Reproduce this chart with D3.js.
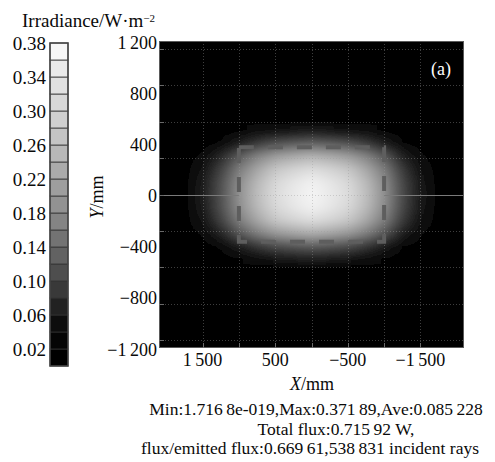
<!DOCTYPE html>
<html>
<head>
<meta charset="utf-8">
<script src="https://cdn.jsdelivr.net/npm/d3@7"></script>
<style>
  body { margin: 0; background: #fff; }
  text { font-family: "Liberation Serif", "Times New Roman", serif; fill: #0a0a0a; }
</style>
</head>
<body>
<div class="root"></div>
<script>
// detector cell centres (mm) and irradiance (W/m^2)
var xCells = [1750, 1500, 1250, 1000, 750, 500, 250, 0, -250, -500, -750, -1000, -1250, -1500, -1750];
var yCells = [500, 400, 300, 200, 100, 0, -100, -200, -300, -400, -500];
var irradiance = [
  [0.004, 0.010, 0.018, 0.030, 0.042, 0.051, 0.056, 0.060, 0.056, 0.051, 0.042, 0.030, 0.017, 0.010, 0.003],
  [0.008, 0.023, 0.041, 0.068, 0.094, 0.115, 0.126, 0.134, 0.126, 0.115, 0.094, 0.067, 0.038, 0.022, 0.007],
  [0.015, 0.043, 0.076, 0.125, 0.172, 0.211, 0.231, 0.246, 0.231, 0.211, 0.172, 0.122, 0.069, 0.040, 0.013],
  [0.019, 0.056, 0.099, 0.163, 0.224, 0.275, 0.301, 0.320, 0.301, 0.275, 0.224, 0.159, 0.090, 0.052, 0.017],
  [0.022, 0.063, 0.112, 0.184, 0.252, 0.310, 0.340, 0.361, 0.340, 0.310, 0.252, 0.179, 0.102, 0.058, 0.019],
  [0.023, 0.065, 0.115, 0.190, 0.260, 0.320, 0.350, 0.372, 0.350, 0.320, 0.260, 0.185, 0.105, 0.060, 0.020],
  [0.022, 0.063, 0.112, 0.184, 0.252, 0.310, 0.340, 0.361, 0.340, 0.310, 0.252, 0.179, 0.102, 0.058, 0.019],
  [0.019, 0.056, 0.099, 0.163, 0.224, 0.275, 0.301, 0.320, 0.301, 0.275, 0.224, 0.159, 0.090, 0.052, 0.017],
  [0.014, 0.041, 0.072, 0.120, 0.164, 0.202, 0.221, 0.234, 0.221, 0.202, 0.164, 0.117, 0.066, 0.038, 0.012],
  [0.008, 0.022, 0.039, 0.065, 0.088, 0.109, 0.119, 0.126, 0.119, 0.109, 0.088, 0.063, 0.036, 0.020, 0.007],
  [0.004, 0.011, 0.020, 0.033, 0.046, 0.056, 0.061, 0.065, 0.061, 0.056, 0.046, 0.032, 0.018, 0.011, 0.003]
];
var cellW = 250, cellH = 100;

var legendBins = [0, 0.02, 0.04, 0.06, 0.08, 0.10, 0.12, 0.14, 0.16, 0.18, 0.20, 0.22, 0.24, 0.26, 0.28, 0.30, 0.32, 0.34, 0.36];
var legendGreys = ["#000000", "#050505", "#0d0d0d", "#222222", "#393939", "#4e4e4e", "#626262", "#737373", "#848484", "#929292",
                   "#9e9e9e", "#ababab", "#b8b8b8", "#c4c4c4", "#cfcfcf", "#d8d8d8", "#e1e1e1", "#eaeaea", "#f6f6f6"];
var legendTicks = [0.02, 0.06, 0.10, 0.14, 0.18, 0.22, 0.26, 0.30, 0.34, 0.38];

var xTicks = [1500, 500, -500, -1500];
var yTicks = [1200, 800, 400, 0, -400, -800, -1200];
var xGrid = [1500, 1000, 500, 0, -500, -1000, -1500];
var yGrid = [1140, 855, 570, 285, 0, -285, -570, -855, -1140];
var targetX = [1000, -1000], targetY = [370, -370];

var statsLines = [
  "Min:1.716\u20098e-019,Max:0.371\u200989,Ave:0.085\u2009228",
  "Total flux:0.715\u200992 W,",
  "flux/emitted flux:0.669\u200961,538\u2009831 incident rays"
];

var width = 495, height = 462,
    box = { left: 159, right: 464, top: 41, bottom: 348 };

var svg = d3.select(".root").append("svg")
    .attr("width", width)
    .attr("height", height);

var x = d3.scaleLinear().domain([2100, -2100]).range([box.left, box.right]);
var y = d3.scaleLinear().domain([-1200, 1200]).range([box.bottom, box.top]);
var ly = d3.scaleLinear().domain([0, 0.38]).range([366, 43]);

var grey = d3.scaleLinear()
    .domain(legendBins.map(d => d + 0.01))
    .range(legendGreys)
    .clamp(true);

var fmt = d3.formatLocale({ decimal: ".", thousands: "\u2009", grouping: [3], currency: ["", ""], minus: "\u2212" }).format(",");

var defs = svg.append("defs");
defs.append("clipPath").attr("id", "plotclip")
  .append("rect")
    .attr("x", box.left).attr("y", box.top)
    .attr("width", box.right - box.left).attr("height", box.bottom - box.top);
defs.append("filter").attr("id", "soft")
    .attr("x", "-20%").attr("y", "-20%").attr("width", "140%").attr("height", "140%")
  .append("feGaussianBlur").attr("stdDeviation", "4 3");

// plot background
svg.append("rect")
    .attr("x", box.left).attr("y", box.top)
    .attr("width", box.right - box.left).attr("height", box.bottom - box.top)
    .attr("fill", "#000");

// irradiance map: one canvas pixel per detector cell, smoothed when scaled up
var cv = document.createElement("canvas");
cv.width = xCells.length; cv.height = yCells.length;
var ctx = cv.getContext("2d");
irradiance.forEach((row, i) => row.forEach((v, j) => {
  ctx.fillStyle = grey(v);
  ctx.fillRect(j, i, 1, 1);
}));

svg.append("g").attr("clip-path", "url(#plotclip)")
  .append("image")
    .attr("href", cv.toDataURL())
    .attr("x", x(xCells[0] + cellW / 2))
    .attr("y", y(yCells[0] + cellH / 2))
    .attr("width", x(xCells[xCells.length - 1] - cellW / 2) - x(xCells[0] + cellW / 2))
    .attr("height", y(yCells[yCells.length - 1] - cellH / 2) - y(yCells[0] + cellH / 2))
    .attr("preserveAspectRatio", "none")
    .style("image-rendering", "auto")
    .attr("filter", "url(#soft)");

// dotted grid
var grid = svg.append("g").attr("stroke", "#9a9a9a").attr("stroke-opacity", 0.4)
    .attr("stroke-dasharray", "1,2").attr("stroke-width", 1);
grid.selectAll(".gx").data(xGrid).enter().append("line")
    .attr("x1", d => Math.round(x(d)) + 0.5).attr("x2", d => Math.round(x(d)) + 0.5)
    .attr("y1", box.top).attr("y2", box.bottom);
grid.selectAll(".gy").data(yGrid).enter().append("line")
    .attr("y1", d => Math.round(y(d)) + 0.5).attr("y2", d => Math.round(y(d)) + 0.5)
    .attr("x1", box.left).attr("x2", box.right);

// solid centre line outside the target
var cy0 = Math.round(y(0)) + 0.5;
svg.append("g").attr("stroke", "#7a7a7a").attr("stroke-width", 1.2)
  .selectAll("line")
  .data([[2100, targetX[0]], [targetX[1], -2100]])
  .enter().append("line")
    .attr("x1", d => x(d[0])).attr("x2", d => x(d[1]))
    .attr("y1", cy0).attr("y2", cy0);

// dashed target outline
svg.append("rect")
    .attr("x", x(targetX[0])).attr("y", y(targetY[0]))
    .attr("width", x(targetX[1]) - x(targetX[0]))
    .attr("height", y(targetY[1]) - y(targetY[0]))
    .attr("fill", "none")
    .attr("stroke", "#5e5e5e")
    .attr("stroke-width", 4)
    .attr("stroke-dasharray", "15,14");

// frame and inward ticks
svg.append("rect")
    .attr("x", box.left + 0.5).attr("y", box.top + 0.5)
    .attr("width", box.right - box.left - 1).attr("height", box.bottom - box.top - 1)
    .attr("fill", "none").attr("stroke", "#5a5a5a").attr("stroke-width", 1);
var ticks = svg.append("g").attr("stroke", "#6a6a6a").attr("stroke-width", 1);
ticks.selectAll(".tx").data(xGrid).enter().append("line")
    .attr("x1", d => Math.round(x(d)) + 0.5).attr("x2", d => Math.round(x(d)) + 0.5)
    .attr("y1", box.bottom).attr("y2", box.bottom - 5);
ticks.selectAll(".ty").data(yGrid).enter().append("line")
    .attr("y1", d => Math.round(y(d)) + 0.5).attr("y2", d => Math.round(y(d)) + 0.5)
    .attr("x1", box.left).attr("x2", box.left + 5);

// tick labels
svg.append("g").selectAll("text").data(yTicks).enter().append("text")
    .attr("x", 157).attr("y", d => y(d)).attr("dy", "0.42em")
    .attr("text-anchor", "end").style("font-size", "18px")
    .text(d => fmt(d));
svg.append("g").selectAll("text").data(xTicks).enter().append("text")
    .attr("x", d => x(d)).attr("y", 366)
    .attr("text-anchor", "middle").style("font-size", "18px")
    .text(d => fmt(d));

// axis titles
var xt = svg.append("text").attr("x", 312).attr("y", 390)
    .attr("text-anchor", "middle").style("font-size", "18px");
xt.append("tspan").style("font-style", "italic").text("X");
xt.append("tspan").text("/mm");
var yt = svg.append("text").attr("transform", "translate(103,197) rotate(-90)")
    .attr("text-anchor", "middle").style("font-size", "18px");
yt.append("tspan").style("font-style", "italic").text("Y");
yt.append("tspan").text("/mm");

svg.append("text").attr("x", 441).attr("y", 75).attr("text-anchor", "middle")
    .style("font-size", "18px").style("fill", "#fff").text("(a)");

// colour bar
var legend = svg.append("g");
legend.selectAll("rect").data(legendBins).enter().append("rect")
    .attr("x", 50).attr("width", 18)
    .attr("y", d => ly(d + 0.02)).attr("height", d => ly(d) - ly(d + 0.02))
    .attr("fill", (d, i) => legendGreys[i])
    .attr("stroke", "#333").attr("stroke-width", 0.8);
legend.append("rect")
    .attr("x", 50).attr("y", ly(0.38)).attr("width", 18).attr("height", ly(0) - ly(0.38))
    .attr("fill", "none").attr("stroke", "#444").attr("stroke-width", 1.5);
legend.selectAll("text").data(legendTicks).enter().append("text")
    .attr("x", 46).attr("y", d => ly(d)).attr("dy", "0.36em")
    .attr("text-anchor", "end").style("font-size", "19px")
    .text(d => d.toFixed(2));

var title = svg.append("text").attr("x", 22).attr("y", 27).style("font-size", "19px");
title.append("tspan").text("Irradiance/W\u00b7m");
title.append("tspan").attr("dy", "-0.5em").style("font-size", "11px").text("\u22122");

// stats under the plot
svg.append("g").selectAll("text").data(statsLines).enter().append("text")
    .attr("x", (d, i) => [316, 336, 310][i])
    .attr("y", (d, i) => 415 + i * 19.5)
    .attr("text-anchor", "middle").style("font-size", "17.5px")
    .text(d => d);
</script>
</body>
</html>
